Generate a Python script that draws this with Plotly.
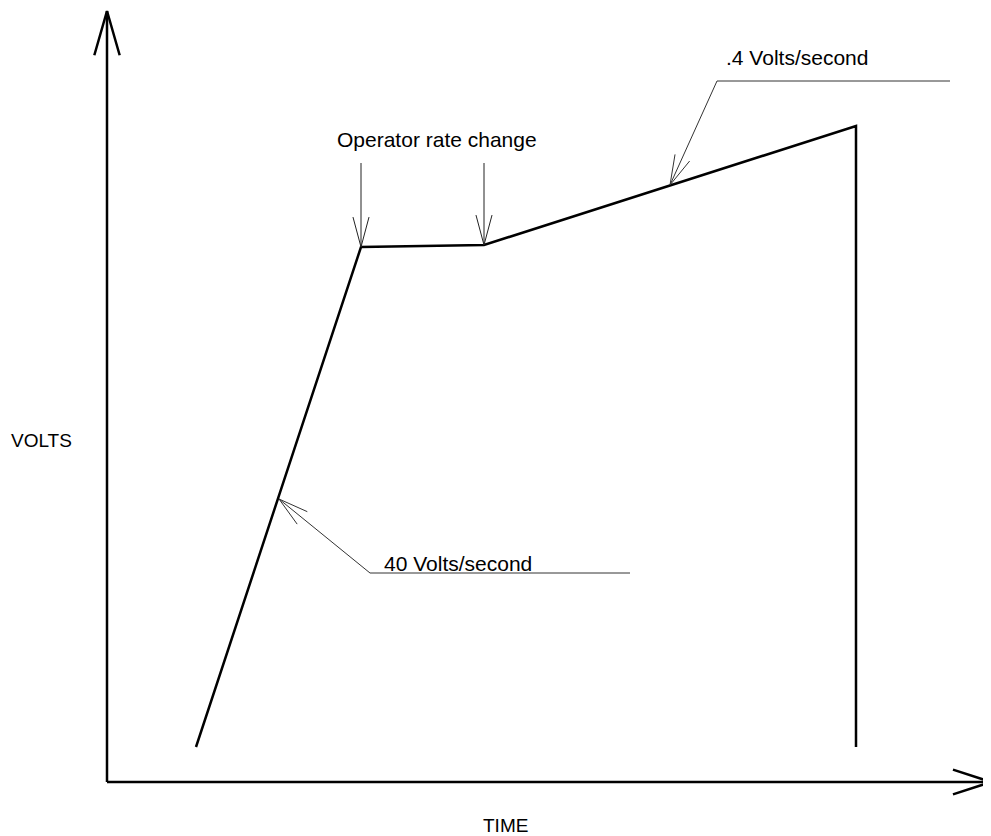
import math
import plotly.graph_objects as go

# ---- data (time units, volt units; 1 unit = 10 px on the page) ----
time = [8.9, 25.4, 37.7, 74.9, 74.9]
volts = [3.5, 53.5, 53.7, 65.6, 3.5]

axis_x_end = 88.4
axis_y_end = 77.1

# annotation leaders: (tail, tip)
op_arrows = [((25.4, 61.9), (25.4, 53.5)), ((37.7, 61.9), (37.7, 53.7))]
slow_leader = [(84.3, 70.1), (61.0, 70.1), (56.3, 59.7)]
fast_leader = [(52.3, 20.9), (26.3, 20.9), (17.2, 28.3)]

labels = {
    "op": ("Operator rate change", 33.0, 64.3, 21),
    "slow": (".4 Volts/second", 69.0, 72.5, 21),
    "fast": ("40 Volts/second", 35.1, 21.9, 21),
    "volts": ("VOLTS", -6.6, 34.2, 19),
    "time": ("TIME", 39.8, -4.3, 19),
}

W, H = 991, 836
page_off = 8          # the page body margin shifts the figure by this many px
ox, oy = 107 - page_off, 782 - page_off  # pixel position of origin within figure
scale = 10.0

fig = go.Figure()

def line(xs, ys, width, color="black"):
    fig.add_trace(go.Scatter(x=xs, y=ys, mode="lines",
                             line=dict(color=color, width=width),
                             hoverinfo="skip", showlegend=False))

def vhead(tail, tip, length, half_angle_deg, width, color="black"):
    dx, dy = tip[0] - tail[0], tip[1] - tail[1]
    ang = math.atan2(dy, dx)
    L = length / scale
    a = math.radians(half_angle_deg)
    p1 = (tip[0] - L * math.cos(ang - a), tip[1] - L * math.sin(ang - a))
    p2 = (tip[0] - L * math.cos(ang + a), tip[1] - L * math.sin(ang + a))
    line([p1[0], tip[0], p2[0]], [p1[1], tip[1], p2[1]], width, color)

# axes
line([0, 0], [0, axis_y_end], 2.5)
vhead((0, 0), (0, axis_y_end), 46, 16, 2.5)
line([0, axis_x_end], [0, 0], 2.5)
vhead((0, 0), (axis_x_end, 0), 40, 18, 2.5)

# curve
line(time, volts, 2.5)

# operator arrows
for tail, tip in op_arrows:
    line([tail[0], tip[0]], [tail[1], tip[1]], 1, "#222")
    vhead(tail, tip, 31, 15, 1, "#222")

# leaders
for ld in (slow_leader, fast_leader):
    line([p[0] for p in ld], [p[1] for p in ld], 1, "#333")
    vhead(ld[-2], ld[-1], 31, 15, 1, "#333")

for key, (txt, x, y, fs) in labels.items():
    fig.add_annotation(x=x, y=y, text=txt, showarrow=False,
                       xanchor="center", yanchor="middle",
                       font=dict(family="Liberation Sans, Arial, sans-serif",
                                 size=fs, color="black"))

fig.update_layout(
    width=W, height=H,
    margin=dict(l=0, r=0, t=0, b=0),
    plot_bgcolor="white", paper_bgcolor="white",
    xaxis=dict(range=[-ox / scale, (W - ox) / scale], visible=False, fixedrange=True),
    yaxis=dict(range=[-(H - oy) / scale, oy / scale], visible=False, fixedrange=True),
)

fig.write_html("out.html")
